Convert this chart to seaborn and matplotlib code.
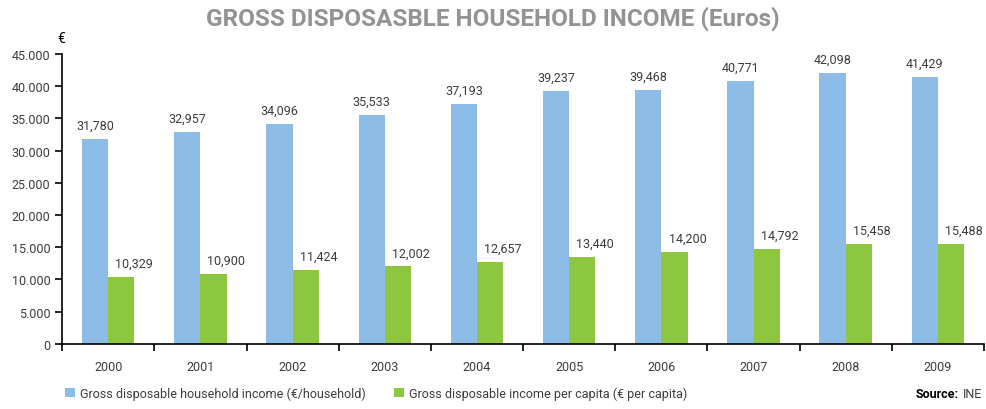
import pandas as pd
import matplotlib.pyplot as plt
import matplotlib.ticker as mticker
import seaborn as sns

years = ["2000", "2001", "2002", "2003", "2004", "2005", "2006", "2007", "2008", "2009"]
per_household = [31780, 32957, 34096, 35533, 37193, 39237, 39468, 40771, 42098, 41429]
per_capita = [10329, 10900, 11424, 12002, 12657, 13440, 14200, 14792, 15458, 15488]
series = [
    "Gross disposable household income (€/household)",
    "Gross disposable income per capita (€ per capita)",
]

BLUE = "#8dbde6"
GREEN = "#8dc63f"
TEXT = "#3c3c3c"

df = pd.DataFrame({
    "year": years * 2,
    "value": per_household + per_capita,
    "series": [series[0]] * len(years) + [series[1]] * len(years),
})

sns.set_style("white")
plt.rcParams["font.family"] = ["Roboto", "DejaVu Sans"]

fig = plt.figure(figsize=(9.86, 4.10), dpi=100)
ax = fig.add_axes([0.063, 0.159, 0.935, 0.707])

sns.barplot(
    data=df, x="year", y="value", hue="series",
    palette=[BLUE, GREEN], width=0.57, gap=0, ax=ax,
    saturation=1, legend=True, errorbar=None, linewidth=0,
)

ax.set_ylim(0, 45000)
ax.set_xlim(-0.5, len(years) - 0.5)
ax.yaxis.set_major_locator(mticker.MultipleLocator(5000))
ax.yaxis.set_major_formatter(
    mticker.FuncFormatter(lambda v, _: f"{int(v):,}".replace(",", "."))
)
ax.set_xlabel("")
ax.set_ylabel("")

for s in ["top", "right"]:
    ax.spines[s].set_visible(False)
for s in ["left", "bottom"]:
    ax.spines[s].set_color("black")
    ax.spines[s].set_linewidth(1.2)

ax.tick_params(axis="y", which="major", direction="out", length=5, width=1.2,
               left=True, labelsize=9, labelcolor=TEXT, color="black")
ax.tick_params(axis="x", which="major", length=0, labelsize=9, labelcolor=TEXT, pad=12)
ax.set_xticks([i - 0.5 for i in range(len(years) + 1)], minor=True)
ax.tick_params(axis="x", which="minor", direction="out", length=5, width=1.2,
               bottom=True, color="black")

# value labels
for cont, vals, dx in zip(ax.containers, [per_household, per_capita], [0.0, 0.14]):
    for bar, v in zip(cont, vals):
        cx = bar.get_x() + bar.get_width() / 2 + dx
        ax.text(cx, v + 1100, f"{v:,}", ha="center", va="bottom",
                fontsize=9, color=TEXT)

handles, labels = ax.get_legend_handles_labels()
ax.legend_.remove()
fig.legend(handles, labels, loc="lower left", bbox_to_anchor=(0.055, -0.005),
           ncol=2, frameon=False, fontsize=9, handlelength=0.8, handleheight=0.8,
           handletextpad=0.4, columnspacing=2.2, labelcolor=TEXT)

fig.text(0.5, 0.955, "GROSS DISPOSASBLE HOUSEHOLD INCOME (Euros)", ha="center",
         va="center", fontsize=17.5, fontweight="bold", color="#939393")
fig.text(0.058, 0.905, "€", ha="left", va="center", fontsize=10, color="black")
src = fig.text(0.996, 0.022, "INE", ha="right", va="bottom", fontsize=9, color=TEXT)
fig.canvas.draw()
bb = src.get_window_extent().transformed(fig.transFigure.inverted())
fig.text(bb.x0 - 0.004, 0.022, "Source:", ha="right", va="bottom", fontsize=9,
         fontweight="bold", color="black")

fig.savefig("out.png", dpi=100)
